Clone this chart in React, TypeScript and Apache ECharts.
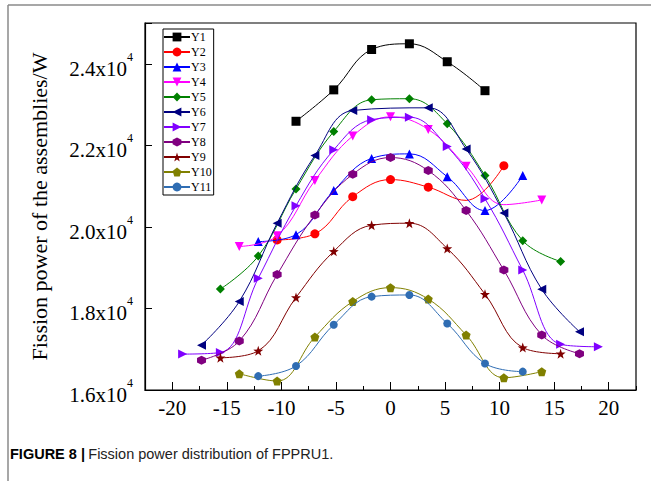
import React, { useEffect, useRef } from 'react';
import * as echarts from 'echarts';

// ---- data ----
const seriesNames = ['Y1', 'Y2', 'Y3', 'Y4', 'Y5', 'Y6', 'Y7', 'Y8', 'Y9', 'Y10', 'Y11'];

const x1 = [-8.66, -5.2, -1.73, 1.73, 5.2, 8.66];
const v1 = [22590, 23360, 24350, 24490, 24050, 23340];

const x2 = [-10.39, -6.93, -3.46, 0, 3.46, 6.93, 10.39];
const v2 = [19680, 19830, 20740, 21160, 20975, 20650, 21500];

const x3 = [-12.12, -8.66, -5.2, -1.73, 1.73, 5.2, 8.66, 12.12];
const v3 = [19640, 19810, 20890, 21680, 21790, 21230, 20400, 21260];

const x4 = [-13.86, -10.39, -6.93, -3.46, 0, 3.46, 6.93, 10.39, 13.86];
const v4 = [19520, 19780, 21135, 22230, 22700, 22390, 21490, 20545, 20660];

const x5 = [-15.59, -12.12, -8.66, -5.2, -1.73, 1.73, 5.2, 8.66, 12.12, 15.59];
const v5 = [18474, 19285, 20931, 22339, 23118, 23143, 22528, 21258, 19661, 19152];

const x6 = [-17.32, -13.86, -10.39, -6.93, -3.46, 3.46, 6.93, 10.39, 13.86, 17.32];
const v6 = [17100, 18170, 20090, 21750, 22855, 22920, 21910, 20340, 18470, 17430];

const x7 = [-19.05, -15.59, -12.12, -8.66, -5.2, -1.73, 1.73, 5.2, 8.66, 12.12, 15.59, 19.05];
const v7 = [16880, 16920, 18740, 20520, 21890, 22630, 22690, 21970, 20690, 18940, 17120, 17060];

const x8 = [-17.32, -13.86, -10.39, -6.93, -3.46, 0, 3.46, 6.93, 10.39, 13.86, 17.32];
const v8 = [16730, 17200, 18830, 20290, 21290, 21700, 21380, 20400, 18940, 17350, 16890];

const x9 = [-15.59, -12.12, -8.66, -5.2, -1.73, 1.73, 5.2, 8.66, 12.12, 15.59];
const v9 = [16790, 16960, 18270, 19400, 20040, 20090, 19470, 18350, 17040, 16890];

const x10 = [-13.86, -10.39, -6.93, -3.46, 0, 3.46, 6.93, 10.39, 13.86];
const v10 = [16400, 16220, 17300, 18170, 18510, 18230, 17350, 16300, 16450];

const x11 = [-12.12, -8.66, -5.2, -1.73, 1.73, 5.2, 8.66, 12.12];
const v11 = [16340, 16590, 17600, 18290, 18330, 17630, 16650, 16450];

// points whose markers are hidden behind other marks in the reference
const hidden2 = [5];
const hidden4 = [7];

const xTickLabels = ['-22.5', '-20', '-17.5', '-15', '-12.5', '-10', '-7.5', '-5', '-2.5', '0', '2.5', '5', '7.5', '10', '12.5', '15', '17.5', '20', '22.5'];
const yTicks = [16000, 18000, 20000, 22000, 24000];

// ---- styling ----
const colors = ['#000000', '#ff0000', '#0000ff', '#ff00ff', '#008000', '#000080', '#8000ff', '#800080', '#800000', '#808000', '#2f6db3'];
const HEX = 'path://M0,-10L8.66,-5L8.66,5L0,10L-8.66,5L-8.66,-5Z';
const STAR = 'path://M0,-10L2.35,-3.24L9.51,-3.09L3.8,1.24L5.88,8.09L0,4L-5.88,8.09L-3.8,1.24L-9.51,-3.09L-2.35,-3.24Z';
const PENT = 'path://M0,-10L9.51,-3.09L5.88,8.09L-5.88,8.09L-9.51,-3.09Z';
const symbols = ['rect', 'circle', 'triangle', 'triangle', 'diamond', 'triangle', 'triangle', HEX, STAR, PENT, 'circle'];
const rotates = [0, 0, 0, 180, 0, 90, -90, 0, 0, 0, 0];
const sizes = [9, 9, 9, 9, 9, 9, 9, 9, 10, 9, 8];

const SERIF = '"Liberation Serif", "Times New Roman", serif';
const SANS = '"Liberation Sans Narrow", "Liberation Sans", Arial, sans-serif';

const xs = [x1, x2, x3, x4, x5, x6, x7, x8, x9, x10, x11];
const vs = [v1, v2, v3, v4, v5, v6, v7, v8, v9, v10, v11];
const hiddenMap: Record<number, number[]> = { 1: hidden2, 3: hidden4 };

export default function App() {
  const ref = useRef<HTMLDivElement>(null);
  useEffect(() => {
    if (!ref.current) return;
    const chart = echarts.init(ref.current, null, { renderer: 'svg' });
    const series = seriesNames.map((name, i) => ({
      name,
      type: 'line',
      smooth: 0.4,
      smoothMonotone: 'none',
      xAxisIndex: 0,
      symbol: symbols[i],
      symbolRotate: rotates[i],
      symbolSize: sizes[i],
      showAllSymbol: true,
      color: colors[i],
      lineStyle: { width: 1, color: colors[i] },
      itemStyle: { color: colors[i] },
      data: xs[i].map((x, j) => {
        const hid = (hiddenMap[i] || []).includes(j);
        return hid ? { value: [x, vs[i][j]], symbol: 'none' } : [x, vs[i][j]];
      }),
      z: 2 + i,
    }));
    chart.setOption({
      animation: false,
      backgroundColor: '#ffffff',
      grid: { left: 145, right: 15, top: 23, bottom: 91, show: true, borderColor: '#000', borderWidth: 1.2 },
      legend: {
        orient: 'vertical',
        left: 163,
        top: 29,
        itemWidth: 26,
        itemHeight: 11,
        itemGap: 3,
        padding: [2, 2, 2, 0],
        borderColor: '#000',
        borderWidth: 1,
        textStyle: { fontFamily: SERIF, fontSize: 12, lineHeight: 12, color: '#000', padding: [0, 0, 0, -4] },
        data: seriesNames,
      },
      xAxis: [
        {
          type: 'value',
          min: -22.5,
          max: 22.5,
          interval: 2.5,
          axisLine: { show: true, onZero: false, lineStyle: { color: '#000', width: 1.2 } },
          axisTick: { show: true, inside: true, length: 4, lineStyle: { color: '#000' } },
          axisLabel: { show: false },
          splitLine: { show: false },
        },
        {
          type: 'category',
          position: 'bottom',
          boundaryGap: false,
          data: xTickLabels,
          axisLine: { show: false, onZero: false },
          axisTick: {
            show: true,
            inside: true,
            length: 8,
            interval: (idx: number) => idx % 2 === 1,
            lineStyle: { color: '#000' },
          },
          axisLabel: {
            interval: (idx: number) => idx % 2 === 1,
            margin: 7,
            fontFamily: SERIF,
            fontSize: 21,
            color: '#000',
          },
          splitLine: { show: false },
        },
      ],
      yAxis: {
        type: 'value',
        min: 16000,
        max: 25000,
        interval: 2000,
        name: 'Fission power of the assemblies/W',
        nameLocation: 'middle',
        nameGap: 95,
        nameTextStyle: { fontFamily: SERIF, fontSize: 22, color: '#000' },
        axisLine: { show: true, onZero: false, lineStyle: { color: '#000', width: 1.2 } },
        axisTick: { show: true, inside: true, length: 7, lineStyle: { color: '#000' } },
        splitLine: { show: false },
        axisLabel: {
          margin: 12,
          formatter: (v: number) =>
            yTicks.includes(v) ? `{m|${(v / 10000).toFixed(1)}x10}{s|4}` : '',
          rich: {
            m: { fontFamily: SERIF, fontSize: 21, color: '#000', lineHeight: 26, padding: [10, 0, 0, 0] },
            s: { fontFamily: SERIF, fontSize: 12, color: '#000', lineHeight: 14, verticalAlign: 'top' },
          },
        },
      },
      graphic: [
        { type: 'line', shape: { x1: 8, y1: 5, x2: 651, y2: 5 }, style: { stroke: '#8a8a8a', lineWidth: 1.5 } },
        { type: 'line', shape: { x1: 8, y1: 5, x2: 8, y2: 481 }, style: { stroke: '#8a8a8a', lineWidth: 1.5 } },
        {
          type: 'text',
          left: 10,
          top: 446,
          style: {
            text: '{b|FIGURE 8 |} {r|Fission power distribution of FPPRU1.}',
            rich: {
              b: { fontFamily: SANS, fontWeight: 'bold', fontSize: 14.5, fill: '#000' },
              r: { fontFamily: SANS, fontSize: 14.5, fill: '#222' },
            },
          },
        },
      ],
      series,
    });
    return () => chart.dispose();
  }, []);
  return <div ref={ref} style={{ position: 'absolute', left: 0, top: 0, width: 651, height: 481, background: '#fff' }} />;
}
